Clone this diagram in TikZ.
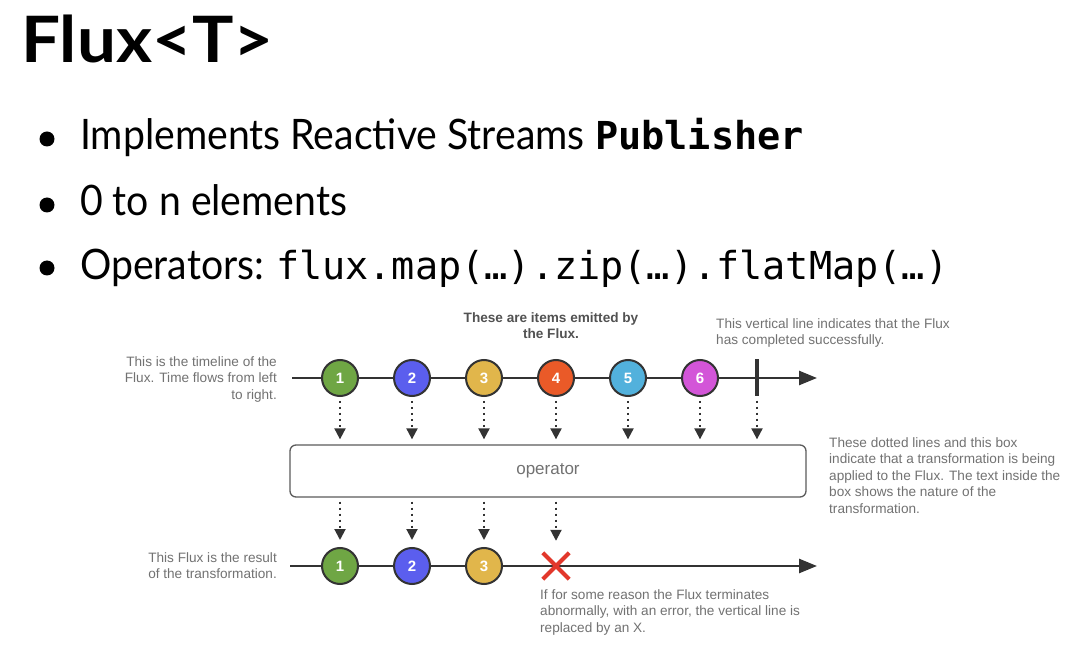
\documentclass[tikz,border=0pt]{standalone}
\usepackage{fontspec}
\usepackage{graphicx}
\setmainfont{Lato}
\newfontfamily\helv{Liberation Sans}
\newfontfamily\codefont{DejaVu Sans Mono}
\usetikzlibrary{arrows.meta}
\definecolor{ink}{HTML}{333333}
\definecolor{note}{HTML}{727272}
\definecolor{cA}{HTML}{6FA644}
\definecolor{cB}{HTML}{5B5EEE}
\definecolor{cC}{HTML}{E1B64B}
\definecolor{cD}{HTML}{EA5A28}
\definecolor{cE}{HTML}{52B1DC}
\definecolor{cF}{HTML}{D355D8}
\definecolor{xred}{HTML}{E2372B}
\newcommand{\bodyfont}{\fontsize{42}{42}\selectfont}
\newcommand{\codesize}{\fontsize{38.5}{38.5}\selectfont}
\newcommand{\narrow}[1]{\scalebox{0.933}[1]{#1}}
\tikzset{
  item/.style={circle, draw=ink, line width=2pt, minimum size=36pt, inner sep=0pt,
    text=white, font=\helv\bfseries\fontsize{15}{15}\selectfont},
  timeline/.style={draw=ink, line width=2.6pt, -{Triangle[length=18pt,width=14pt]}},
  dotarrow/.style={draw=ink, line width=2pt, dash pattern=on 2pt off 4pt,
    -{Triangle[length=11pt,width=11pt]}},
  notetext/.style={text=note, font=\helv\fontsize{13.6}{16.5}\selectfont, inner sep=0pt},
  bullettext/.style={anchor=base west, inner sep=0pt, font=\bodyfont},
  dot/.style={circle, fill=black, minimum size=15pt, inner sep=0pt},
}
\begin{document}
\begin{tikzpicture}[x=1pt,y=-1pt]
\useasboundingbox[fill=white] (0,0) rectangle (1080,652);

% title
\node[anchor=base west, inner sep=0pt, font=\bfseries\fontsize{64}{64}\selectfont] (title) at (21,63) {\scalebox{1.08}[1]{Flux<T>}};

% bullets
\node[dot] (b1) at (47,139) {};
\node[bullettext] (t1) at (80,150) {\narrow{Implements Reactive Streams} {\codefont\codesize\bfseries Publisher}};
\node[dot] (b2) at (47,205) {};
\node[bullettext] (t2) at (80,216) {\narrow{0 to n elements}};
\node[dot] (b3) at (47,268) {};
\node[bullettext] (t3) at (80,280) {\narrow{Operators:}\hspace{12pt}{\codefont\codesize flux.map(…).zip(…).flatMap(…)}};

% top timeline
\coordinate (tls) at (292,378);
\coordinate (tle) at (817,378);
\draw[timeline] (tls) -- (tle);
\node[item, fill=cA] (c1) at (340,378) {1};
\node[item, fill=cB] (c2) at (412,378) {2};
\node[item, fill=cC] (c3) at (484,378) {3};
\node[item, fill=cD] (c4) at (556,378) {4};
\node[item, fill=cE] (c5) at (628,378) {5};
\node[item, fill=cF] (c6) at (700,378) {6};
\node[fill=ink, minimum width=4.5pt, minimum height=37pt, inner sep=0pt] (bar) at (757,378) {};

% operator box
\node[draw=ink!80, line width=1.3pt, rounded corners=6pt, minimum width=516pt, minimum height=52pt,
  text=note, font=\helv\fontsize{17}{17}\selectfont] (op) at (548,471) {operator};

\foreach \n in {c1,c2,c3,c4,c5,c6,bar}{
  \draw[dotarrow, shorten <=4pt, shorten >=5pt] (\n.south) -- (\n.south |- op.north);
}

% bottom timeline
\coordinate (bls) at (290,566);
\coordinate (ble) at (817,566);
\draw[timeline] (bls) -- (ble);
\node[item, fill=cA] (d1) at (340,566) {1};
\node[item, fill=cB] (d2) at (412,566) {2};
\node[item, fill=cC] (d3) at (484,566) {3};
\node[minimum size=26pt, inner sep=0pt] (err) at (556,566) {};
\draw[xred, line width=4pt] (err.north west) -- (err.south east) (err.north east) -- (err.south west);

\foreach \n in {d1,d2,d3}{
  \draw[dotarrow, shorten <=4pt, shorten >=7pt] (op.south -| \n) -- (\n.north);
}
\draw[dotarrow, shorten <=4pt, shorten >=12pt] (op.south -| err) -- (err.north);

% notes
\node[notetext, font=\helv\bfseries\fontsize{13.6}{16}\selectfont, text=ink!85, align=center, anchor=north] (n1) at (551,312)
  {These are items emitted by\\the Flux.};
\node[notetext, align=left, anchor=north west] (n2) at (716,318)
  {This vertical line indicates that the Flux\\has completed successfully.};
\node[notetext, align=right, anchor=north east] (n3) at (277,356)
  {This is the timeline of the\\Flux. Time flows from left\\to right.};
\node[notetext, align=left, anchor=north west] (n4) at (829,437)
  {These dotted lines and this box\\indicate that a transformation is being\\applied to the Flux. The text inside the\\box shows the nature of the\\transformation.};
\node[notetext, align=right, anchor=north east] (n5) at (277,552)
  {This Flux is the result\\of the transformation.};
\node[notetext, align=left, anchor=north west] (n6) at (540,589)
  {If for some reason the Flux terminates\\abnormally, with an error, the vertical line is\\replaced by an X.};
\end{tikzpicture}
\end{document}
